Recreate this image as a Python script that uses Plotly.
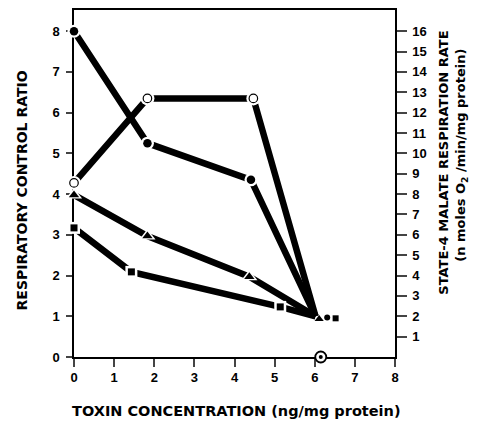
import plotly.graph_objects as go

# ---- data ----
conc_filled = [0, 1.83, 4.41]
rcr_filled = [8.0, 5.25, 4.35]

conc_open = [0, 1.83, 4.47]
state4_open = [8.55, 12.7, 12.7]          # right axis (nmoles O2/min/mg protein)

conc_tri = [0, 1.83, 4.37]
rcr_tri = [3.98, 2.97, 1.97]

conc_sq = [0, 1.43, 5.14]
rcr_sq = [3.17, 2.09, 1.23]

# common point where all curves meet
conv_x = 6.02
conv_rcr = 1.0
conv_state4 = 2.0

# final markers, drawn side by side next to the meeting point
end_tri = (6.11, 0.93)
end_filled = (6.31, 0.97)
end_sq = (6.52, 0.95)

# circled point on the x axis
zero_pt = (6.15, 0.0)

x_ticks = [0, 1, 2, 3, 4, 5, 6, 7, 8]
y_ticks = [0, 1, 2, 3, 4, 5, 6, 7, 8]
y2_ticks = list(range(1, 17))

FONT = "Liberation Sans"
TFONT = "DejaVu Sans"
LW = 6.5

fig = go.Figure()

def line(x, y, yaxis="y"):
    fig.add_trace(go.Scatter(x=x, y=y, mode="lines", yaxis=yaxis,
                             line=dict(color="black", width=LW),
                             showlegend=False, hoverinfo="skip", cliponaxis=False))

line(conc_filled + [conv_x], rcr_filled + [conv_rcr])
line(conc_open + [conv_x], state4_open + [conv_state4], "y2")
line(conc_tri + [conv_x], rcr_tri + [conv_rcr])
line(conc_sq + [conv_x], rcr_sq + [conv_rcr])

def halo(x, y, size, yaxis="y", symbol="circle"):
    fig.add_trace(go.Scatter(x=x, y=y, mode="markers", yaxis=yaxis,
                             marker=dict(color="white", size=size, symbol=symbol,
                                         line=dict(width=0)),
                             showlegend=False, hoverinfo="skip", cliponaxis=False))

halo(conc_filled, rcr_filled, 13)
halo(conc_open, state4_open, 14, "y2")
halo(conc_tri, rcr_tri, 14, symbol="triangle-up")
halo(conc_sq, rcr_sq, 12, symbol="square")

def marks(x, y, symbol, size, yaxis="y", fill="black", lw=0):
    fig.add_trace(go.Scatter(x=x, y=y, mode="markers", yaxis=yaxis,
                             marker=dict(color=fill, size=size, symbol=symbol,
                                         line=dict(color="black", width=lw)),
                             showlegend=False, cliponaxis=False))

marks(conc_filled, rcr_filled, "circle", 8.5)
marks(conc_open, state4_open, "circle", 8.5, "y2", fill="white", lw=1.2)
marks(conc_tri, rcr_tri, "triangle-up", 9)
marks(conc_sq, rcr_sq, "square", 7)

marks([end_tri[0]], [end_tri[1]], "triangle-up", 8)
marks([end_filled[0]], [end_filled[1]], "circle", 6)
marks([end_sq[0]], [end_sq[1]], "square", 6)

marks([zero_pt[0]], [zero_pt[1]], "circle", 11, fill="white", lw=1.8)
marks([zero_pt[0]], [zero_pt[1]], "circle", 4)

tickfont = dict(family=FONT, size=13, color="black", weight="bold")

fig.update_layout(
    width=486, height=424,
    margin=dict(l=74, r=91, t=10, b=67, autoexpand=False),
    paper_bgcolor="white", plot_bgcolor="white",
    font=dict(family=FONT, color="black"),
    xaxis=dict(range=[0, 8], tickvals=x_ticks, ticks="outside", ticklen=8,
               tickwidth=1.5, showline=True, linecolor="black", linewidth=1.5,
               mirror=True, showgrid=False, zeroline=False, tickfont=tickfont,
               layer="below traces", automargin=False),
    yaxis=dict(range=[0, 8.52], tickvals=y_ticks, ticks="outside", ticklen=6,
               tickwidth=1.5, showline=True, linecolor="black", linewidth=1.5,
               showgrid=False, zeroline=False, tickfont=tickfont,
               layer="below traces", automargin=False, ticklabelstandoff=4),
    yaxis2=dict(range=[0, 17.04], tickvals=y2_ticks, ticks="outside", ticklen=10,
                tickwidth=1.5, showline=True, linecolor="black", linewidth=1.5,
                overlaying="y", side="right", showgrid=False, zeroline=False,
                tickfont=tickfont, layer="below traces", automargin=False,
                ticklabelstandoff=3),
    annotations=[
        dict(text="RESPIRATORY CONTROL RATIO", xref="paper", yref="paper",
             x=0, y=0.48, xanchor="center", yanchor="middle", xshift=-52,
             textangle=-90, showarrow=False,
             font=dict(family=TFONT, size=14, weight="bold")),
        dict(text="TOXIN CONCENTRATION (ng/mg protein)", xref="paper", yref="paper",
             x=0.505, y=0, xanchor="center", yanchor="middle", yshift=-54,
             showarrow=False, font=dict(family=TFONT, size=14.5, weight="bold")),
        dict(text="STATE-4 MALATE RESPIRATION RATE", xref="paper", yref="paper",
             x=1, y=0.56, xanchor="center", yanchor="middle", xshift=49,
             textangle=-90, showarrow=False,
             font=dict(family=TFONT, size=13, weight="bold")),
        dict(text="(n moles O<sub>2</sub> /min/mg protein)", xref="paper", yref="paper",
             x=1, y=0.58, xanchor="center", yanchor="middle", xshift=67,
             textangle=-90, showarrow=False,
             font=dict(family=TFONT, size=13, weight="bold")),
    ],
)

fig.write_html("out.html", config={"displayModeBar": False},
               post_script="document.body.style.margin='0';")
